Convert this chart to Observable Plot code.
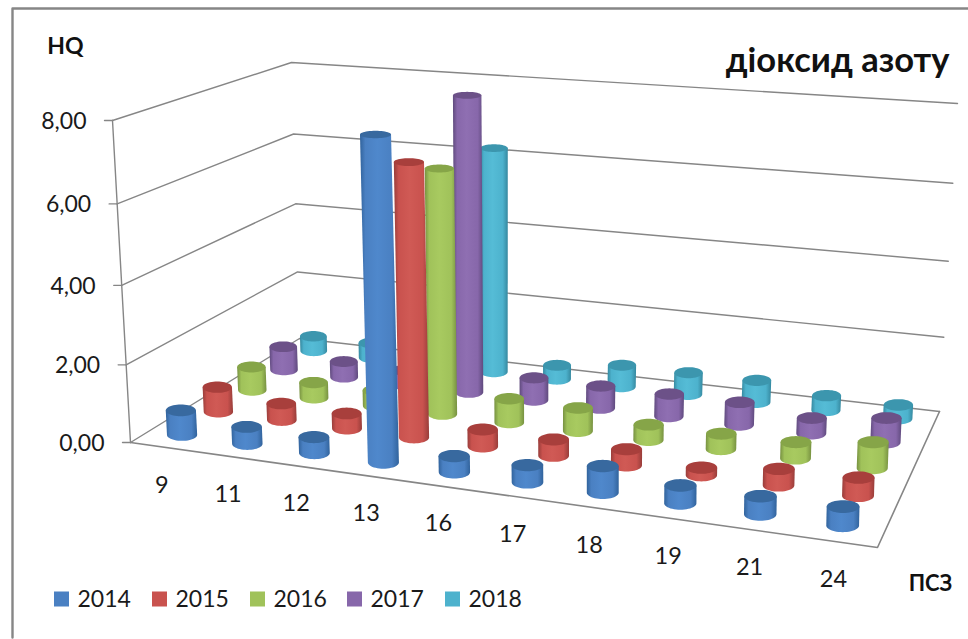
<!DOCTYPE html>
<html>
<head>
<meta charset="utf-8">
<script src="https://cdn.jsdelivr.net/npm/d3@7"></script>
<script src="https://cdn.jsdelivr.net/npm/@observablehq/plot@0.6"></script>
<style>
  html, body { margin: 0; padding: 0; background: #fff; }
  svg { display: block; }
</style>
</head>
<body>
<div id="chart"></div>
<script>
// Sampling stations along the front edge of the floor
const stations = ["9", "11", "12", "13", "16", "17", "18", "19", "21", "24"];
const years = ["2014", "2015", "2016", "2017", "2018"];
const valueTicks = [0, 2, 4, 6, 8];

// HQ per station, one list per year
const hq2014 = [0.64, 0.44, 0.41, 8.0, 0.41, 0.43, 0.66, 0.44, 0.44, 0.46];
const hq2015 = [0.66, 0.44, 0.40, 6.95, 0.44, 0.42, 0.41, 0.19, 0.41, 0.45];
const hq2016 = [0.64, 0.42, 0.42, 6.4, 0.63, 0.61, 0.40, 0.40, 0.42, 0.66];
const hq2017 = [0.66, 0.44, 0.40, 7.9, 0.61, 0.60, 0.60, 0.60, 0.41, 0.64];
const hq2018 = [0.43, 0.43, 0.40, 6.2, 0.39, 0.60, 0.60, 0.60, 0.40, 0.37];
const seriesValues = [hq2014, hq2015, hq2016, hq2017, hq2018];

// Office-style series palette: edge, body, highlight, cap
const bodyEdge = ["#31639c", "#983d3a", "#779141", "#5f4a7d", "#35889f"];
const bodyMid = ["#4a80c2", "#c9524e", "#a0c25a", "#8767aa", "#4db2cd"];
const bodyLight = ["#4f88cc", "#d05a55", "#a8ca60", "#8f6fb2", "#55bcd6"];
const capFill = ["#38699f", "#a83f3c", "#86a548", "#6c5188", "#3c96ae"];

// Floor corners on the page and the page offset of a full-height upright at
// each of them. Order: front-left, front-right, back-right, back-left.
const floorQuad = [[130, 442], [877, 547], [939, 411], [299, 338]];
const uprights = [[-18, -322], [8, -352], [18, -308], [-8, -276]];
const maxValue = 8;

// Homography from the unit square onto a page quadrilateral
function squareToQuad(q) {
  const [[x0, y0], [x1, y1], [x2, y2], [x3, y3]] = q;
  const dx1 = x1 - x2, dx2 = x3 - x2, sx = x0 - x1 + x2 - x3;
  const dy1 = y1 - y2, dy2 = y3 - y2, sy = y0 - y1 + y2 - y3;
  const det = dx1 * dy2 - dx2 * dy1;
  const g = (sx * dy2 - dx2 * sy) / det;
  const h = (dx1 * sy - sx * dy1) / det;
  const a = x1 - x0 + g * x1, b = x3 - x0 + h * x3;
  const d = y1 - y0 + g * y1, e = y3 - y0 + h * y3;
  return (u, v) => {
    const w = g * u + h * v + 1;
    return [(a * u + b * v + x0) / w, (d * u + e * v + y0) / w];
  };
}
const floorMap = squareToQuad(floorQuad);

// Perspective foreshortening along the value axis
const foreshorten = t => t / (1.049 - 0.049 * t);

// Page position of (fraction along stations, fraction along years, value)
function project(u, v, value) {
  const s = foreshorten(value / maxValue);
  const a = floorMap(u, v);
  const off = k => (1 - u) * (1 - v) * uprights[0][k] + u * (1 - v) * uprights[1][k]
                 + u * v * uprights[2][k] + (1 - u) * v * uprights[3][k];
  return [a[0] + off(0) * s, a[1] + off(1) * s];
}

const uOf = i => (i + 0.5) / stations.length;
const vOf = j => (j + 0.5) / years.length;

// Outline of a cylinder body and its cap, both as page-space polygons.
// Caps flatten with height because the eye sits just above the tallest bars.
function cylinder(i, j, value) {
  const u = uOf(i), v = vOf(j);
  const base = project(u, v, 0);
  const top = project(u, v, value);
  const unit = base[1] - project(u, v, 1)[1];
  const rx = 0.395 * unit, ry = 0.4 * rx;
  const ryTop = rx * (0.4 - 0.16 * value / maxValue);
  const angles = d3.range(0, 1.0001, 1 / 24).map(f => f * Math.PI);
  const lower = angles.map(t => [base[0] + rx * Math.cos(t), base[1] + ry * Math.sin(t)]);
  const upper = angles.map(t => [top[0] - rx * Math.cos(t), top[1] - ryTop * Math.sin(t)]);
  return {body: [...lower, [top[0] - rx, top[1]], [top[0] + rx, top[1]]],
          cap: [...upper, ...angles.map(t => [top[0] + rx * Math.cos(t), top[1] + ryTop * Math.sin(t)])]};
}

// Gradients shared by all the bodies of a series
function gradients() {
  const defs = d3.create("svg:defs");
  years.forEach((y, j) => {
    const g = defs.append("linearGradient").attr("id", `body-${y}`).attr("x1", 0).attr("x2", 1).attr("y1", 0).attr("y2", 0);
    [[0, bodyEdge[j]], [0.14, bodyMid[j]], [0.45, bodyLight[j]], [0.82, bodyMid[j]], [1, bodyEdge[j]]]
      .forEach(([o, c]) => g.append("stop").attr("offset", o).attr("stop-color", c));
  });
  return defs.node();
}

const gridColor = "#868686";
const px = p => p[0], py = p => p[1];
const polyline = (pts, width = 1.4) => Plot.line(pts, {x: px, y: py, stroke: gridColor, strokeWidth: width, curve: "linear"});

// Walls: each tick runs along the left wall and then along the back wall
const wallLines = valueTicks.map(t => polyline([project(0, 0, t), project(0, 1, t), project(1, 1, t)]));
const tickMarks = valueTicks.map(t => {
  const p = project(0, 0, t);
  return polyline([[p[0] - 8, p[1]], p]);
});
const axisLine = polyline([project(0, 0, 0), project(0, 0, maxValue)]);
const floorFront = polyline([project(0, 0, 0), project(1, 0, 0), project(1, 1, 0)], 1.6);

// Painter's order: rear series first
const cylinderMarks = [];
for (let j = years.length - 1; j >= 0; --j) {
  stations.forEach((_, i) => {
    const c = cylinder(i, j, seriesValues[j][i]);
    cylinderMarks.push(
      Plot.line(c.body, {x: px, y: py, fill: `url(#body-${years[j]})`, stroke: "none", curve: "linear-closed"}),
      Plot.line(c.cap, {x: px, y: py, fill: capFill[j], stroke: "none", curve: "linear-closed"})
    );
  });
}

const labelFont = "Lato, 'Open Sans', sans-serif";

const valueLabels = Plot.text(valueTicks, {
  x: t => project(0, 0, t)[0] - 26,
  y: t => project(0, 0, t)[1] + 1,
  text: t => t.toFixed(2).replace(".", ","),
  textAnchor: "end", fontSize: 23, fontFamily: labelFont, fill: "#1a1a1a"
});
const stationLabels = Plot.text(stations, {
  x: (d, i) => project(uOf(i), 0, 0)[0] - 1,
  y: (d, i) => project(uOf(i), 0, 0)[1] + 38,
  text: d => d, fontSize: 23.5, fontFamily: labelFont, fill: "#1a1a1a"
});

// Legend row along the bottom of the frame
const legendX = [54, 152, 250, 347, 445];
const legendY = 599;
const legendSwatches = Plot.rect(years, {
  x1: (d, j) => legendX[j], x2: (d, j) => legendX[j] + 15,
  y1: legendY - 7.5, y2: legendY + 7.5,
  fill: (d, j) => bodyMid[j], inset: 0
});
const legendLabels = Plot.text(years, {
  x: (d, j) => legendX[j] + 23, y: legendY, text: d => d,
  textAnchor: "start", fontSize: 23, fontFamily: labelFont, fill: "#1a1a1a"
});

const annotations = [
  Plot.text(["HQ"], {x: 65, y: 46, text: d => d, fontSize: 23, fontWeight: 700, fontFamily: labelFont, fill: "#111"}),
  Plot.text(["діоксид азоту"], {x: 949, y: 60, text: d => d, textAnchor: "end", fontSize: 34.5, fontWeight: 700, fontFamily: labelFont, fill: "#111"}),
  Plot.text(["ПСЗ"], {x: 930, y: 583, text: d => d, fontSize: 22, fontWeight: 700, fontFamily: labelFont, fill: "#111"})
];

// Chart frame: left and top edges
const frame = polyline([[12, 637], [12, 8], [968, 8]], 2.4);

const chart = Plot.plot({
  width: 968,
  height: 639,
  margin: 0,
  x: {type: "linear", domain: [0, 968], range: [0, 968], axis: null},
  y: {type: "linear", domain: [0, 639], range: [0, 639], axis: null},
  style: {background: "#fff"},
  marks: [
    gradients,
    frame,
    ...wallLines,
    ...tickMarks,
    axisLine,
    floorFront,
    ...cylinderMarks,
    valueLabels,
    stationLabels,
    legendSwatches,
    legendLabels,
    ...annotations
  ]
});
document.getElementById("chart").append(chart);
</script>
</body>
</html>
